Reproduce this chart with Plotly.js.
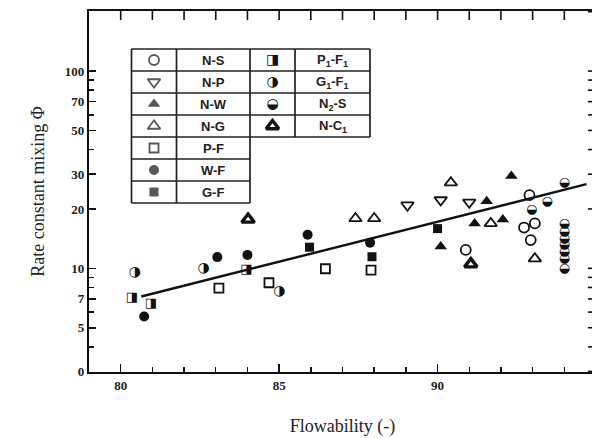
<!DOCTYPE html>
<html>
<head>
<meta charset="utf-8">
<script src="https://cdn.plot.ly/plotly-3.0.1.min.js"></script>
<style>
html,body{margin:0;padding:0;background:#fff;overflow:hidden;width:592px;height:438px;}
#chart{width:597px;height:438px;}
</style>
</head>
<body>
<div id="chart"></div>
<script>
// ---- data ----
const nsX = [90.89, 92.9, 92.73, 93.07, 92.94];
const nsY = [12.4, 23.5, 16.1, 16.9, 13.9];
const npX = [89.05, 90.1, 91.0];
const npY = [20.9, 22.2, 21.6];
const nwX = [90.1, 91.17, 91.55, 92.06, 92.33];
const nwY = [12.9, 16.9, 21.9, 17.7, 29.4];
const ngX = [87.41, 88.0, 90.42, 91.68, 93.07];
const ngY = [17.9, 17.9, 27.2, 16.9, 11.2];
const pfX = [83.1, 84.68, 86.46, 87.9];
const pfY = [7.94, 8.45, 9.95, 9.8];
const wfX = [80.74, 83.05, 84.0, 85.9, 87.87];
const wfY = [5.7, 11.4, 11.7, 14.8, 13.5];
const gfX = [85.96, 87.93, 90.0];
const gfY = [12.8, 11.45, 15.9];
const p1f1X = [80.35, 80.95, 83.97];
const p1f1Y = [7.1, 6.6, 9.8];
const g1f1X = [80.45, 82.62, 85.01];
const g1f1Y = [9.55, 10.0, 7.67];
const n2sX = [92.97, 93.46, 94.0, 94.0, 94.0, 94.0, 94.0, 94.0, 94.0, 94.0];
const n2sY = [19.9, 21.8, 27.0, 16.9, 15.3, 14.2, 13.1, 12.1, 11.2, 10.0];
const nc1X = [84.02, 91.05];
const nc1Y = [17.7, 10.5];
const fitX = [80.65, 94.7];
const fitY = [7.2, 26.7];

const xTickVals = [80, 85, 90, 95];
const xTickText = ['80', '85', '90', '95'];
const xMinorVals = [80, 81, 82, 83, 84, 85, 86, 87, 88, 89, 90, 91, 92, 93, 94, 95];
const yTickVals = [3, 5, 7, 10, 20, 30, 50, 70, 100];
const yTickText = ['0', '5', '7', '10', '20', '30', '50', '70', '100'];
const yMinorVals = [4, 6, 8, 9, 40, 60, 80, 90, 200];

// legend table entries
const legCol1 = [
  {sym: 'circle-open', label: 'N-S'},
  {sym: 'triangle-down-open', label: 'N-P'},
  {sym: 'triangle-up', label: 'N-W'},
  {sym: 'triangle-up-open', label: 'N-G'},
  {sym: 'square-open', label: 'P-F'},
  {sym: 'circle', label: 'W-F'},
  {sym: 'square', label: 'G-F'}
];
const legCol2 = [
  {glyph: '\u25E8', label: 'P<sub>1</sub>-F<sub>1</sub>'},
  {glyph: '\u25D1', label: 'G<sub>1</sub>-F<sub>1</sub>'},
  {glyph: '\u25D2', label: 'N<sub>2</sub>-S'},
  {glyph: '', label: 'N-C<sub>1</sub>'}
];

// ---- styling ----
const INK = '#111';
function markerTrace(x, y, sym, size, name, lw) {
  return {x: x, y: y, type: 'scatter', mode: 'markers', name: name, showlegend: false,
    marker: {symbol: sym, size: size, color: INK, line: sym.indexOf('open') >= 0 ? {color: INK, width: lw || 1.8} : {width: 0}}};
}
function glyphTrace(x, y, g, size, name) {
  return {x: x, y: y, type: 'scatter', mode: 'text', name: name, showlegend: false,
    text: x.map(() => g), textposition: 'middle center',
    textfont: {family: 'DejaVu Sans', size: size, color: INK}};
}

const traces = [
  {x: fitX, y: fitY, type: 'scatter', mode: 'lines', showlegend: false, line: {color: INK, width: 2.4}},
  markerTrace(nsX, nsY, 'circle-open', 10, 'N-S'),
  markerTrace(npX, npY, 'triangle-down-open', 11, 'N-P'),
  markerTrace(nwX, nwY, 'triangle-up', 11, 'N-W'),
  markerTrace(ngX, ngY, 'triangle-up-open', 11, 'N-G'),
  markerTrace(pfX, pfY, 'square-open', 9, 'P-F'),
  markerTrace(wfX, wfY, 'circle', 10, 'W-F'),
  markerTrace(gfX, gfY, 'square', 9, 'G-F'),
  glyphTrace(p1f1X, p1f1Y, '\u25E8', 13, 'P1-F1'),
  glyphTrace(g1f1X, g1f1Y, '\u25D1', 14, 'G1-F1'),
  glyphTrace(n2sX, n2sY, '\u25D2', 13, 'N2-S'),
  markerTrace(nc1X, nc1Y, 'triangle-up-open', 11, 'N-C1', 3.4)
];

const shapes = [];
const annotations = [];

// ticks on the top and right frame edges
xMinorVals.forEach(v => shapes.push({type: 'line', xref: 'x', yref: 'paper',
  x0: v, x1: v, y0: 1, y1: 0.975, line: {color: INK, width: 1.6}}));
yTickVals.concat(yMinorVals).forEach(v => shapes.push({type: 'line', xref: 'paper', yref: 'y',
  x0: 1, x1: 0.984, y0: v, y1: v, line: {color: INK, width: 1.6}}));

// legend table geometry in pixel coordinates (overlay axes)
const tL = 131.5, tC1 = 176.5, tC2 = 250, tC3 = 295, tR = 370;
const tTop = 49, rowH = 22;
function hline(x0, x1, y) { shapes.push({type: 'line', xref: 'x2', yref: 'y2', x0: x0, x1: x1, y0: y, y1: y, line: {color: '#222', width: 1.7}}); }
function vline(x, y0, y1) { shapes.push({type: 'line', xref: 'x2', yref: 'y2', x0: x, x1: x, y0: y0, y1: y1, line: {color: '#222', width: 1.7}}); }
for (let i = 0; i <= legCol1.length; i++) hline(tL, tC2, tTop + i * rowH);
for (let i = 0; i <= legCol2.length; i++) hline(tC2, tR, tTop + i * rowH);
vline(tL, tTop, tTop + legCol1.length * rowH);
vline(tC1, tTop, tTop + legCol1.length * rowH);
vline(tC2, tTop, tTop + legCol1.length * rowH);
vline(tC3, tTop, tTop + legCol2.length * rowH);
vline(tR, tTop, tTop + legCol2.length * rowH);

const legFont = {family: 'Liberation Sans', size: 13, color: '#222', weight: 'bold'};
const lx1 = [], ly1 = [], ls1 = [];
legCol1.forEach((e, i) => {
  const cy = tTop + (i + 0.5) * rowH;
  lx1.push((tL + tC1) / 2); ly1.push(cy); ls1.push(e.sym);
  annotations.push({xref: 'x2', yref: 'y2', x: (tC1 + tC2) / 2, y: cy, text: e.label, showarrow: false, font: legFont});
});
traces.push({x: lx1, y: ly1, xaxis: 'x2', yaxis: 'y2', type: 'scatter', mode: 'markers', showlegend: false, hoverinfo: 'skip',
  marker: {symbol: ls1, size: ls1.map(s => s.indexOf('square') >= 0 ? 9 : (s.indexOf('circle') >= 0 ? 10 : 11)), color: INK,
    line: {color: INK, width: ls1.map(s => s.indexOf('open') >= 0 ? 1.8 : 0)}}});
const lx2 = [], ly2 = [], lg2 = [];
legCol2.forEach((e, i) => {
  const cy = tTop + (i + 0.5) * rowH;
  lx2.push((tC2 + tC3) / 2); ly2.push(cy); lg2.push(e.glyph);
  annotations.push({xref: 'x2', yref: 'y2', x: (tC3 + tR) / 2, y: cy, text: e.label, showarrow: false, font: legFont});
});
traces.push({x: lx2.slice(0, 3), y: ly2.slice(0, 3), xaxis: 'x2', yaxis: 'y2', type: 'scatter', mode: 'text', showlegend: false, hoverinfo: 'skip',
  text: lg2.slice(0, 3), textposition: 'middle center', textfont: {family: 'DejaVu Sans', size: 14, color: INK}});
traces.push({x: [lx2[3]], y: [ly2[3]], xaxis: 'x2', yaxis: 'y2', type: 'scatter', mode: 'markers', showlegend: false, hoverinfo: 'skip',
  marker: {symbol: 'triangle-up-open', size: 11, color: INK, line: {color: INK, width: 3.4}}});

const tickFont = {family: 'Liberation Serif', size: 13, color: '#222', weight: 'bold'};
const titleFont = {family: 'Liberation Serif', size: 18, color: '#222'};
const xRange = [79, 95.0];
const yRange = [0.4745, 2.3045];

const layout = {
  width: 597, height: 438,
  margin: {l: 89, r: 1, t: 11, b: 66, pad: 0},
  paper_bgcolor: '#fff', plot_bgcolor: '#fff',
  showlegend: false,
  xaxis: {
    range: xRange, autorange: false,
    tickmode: 'array', tickvals: xTickVals, ticktext: xTickText,
    ticks: 'inside', ticklen: 8, tickwidth: 1.6, tickcolor: INK,
    minor: {tickmode: 'array', tickvals: xMinorVals, ticks: 'inside', ticklen: 5, tickwidth: 1.4, tickcolor: INK},
    showline: true, linecolor: INK, linewidth: 2.2, mirror: true,
    showgrid: false, zeroline: false,
    tickfont: tickFont,
    title: {text: 'Flowability (-)', font: titleFont, standoff: 28}
  },
  yaxis: {
    type: 'log', range: yRange, autorange: false,
    tickmode: 'array', tickvals: yTickVals, ticktext: yTickText,
    ticks: 'inside', ticklen: 7, tickwidth: 1.6, tickcolor: INK,
    minor: {tickmode: 'array', tickvals: yMinorVals, ticks: 'inside', ticklen: 5, tickwidth: 1.4, tickcolor: INK},
    showline: true, linecolor: INK, linewidth: 2.2, mirror: true,
    showgrid: false, zeroline: false,
    tickfont: tickFont,
    title: {text: 'Rate constant mixing \u03A6', font: titleFont, standoff: 16}
  },
  xaxis2: {overlaying: 'x', range: [89, 596], autorange: false, visible: false, fixedrange: true},
  yaxis2: {overlaying: 'y', range: [372, 11], autorange: false, visible: false, fixedrange: true},
  shapes: shapes,
  annotations: annotations
};

Plotly.newPlot('chart', traces, layout, {staticPlot: true, displayModeBar: false});
</script>
</body>
</html>
